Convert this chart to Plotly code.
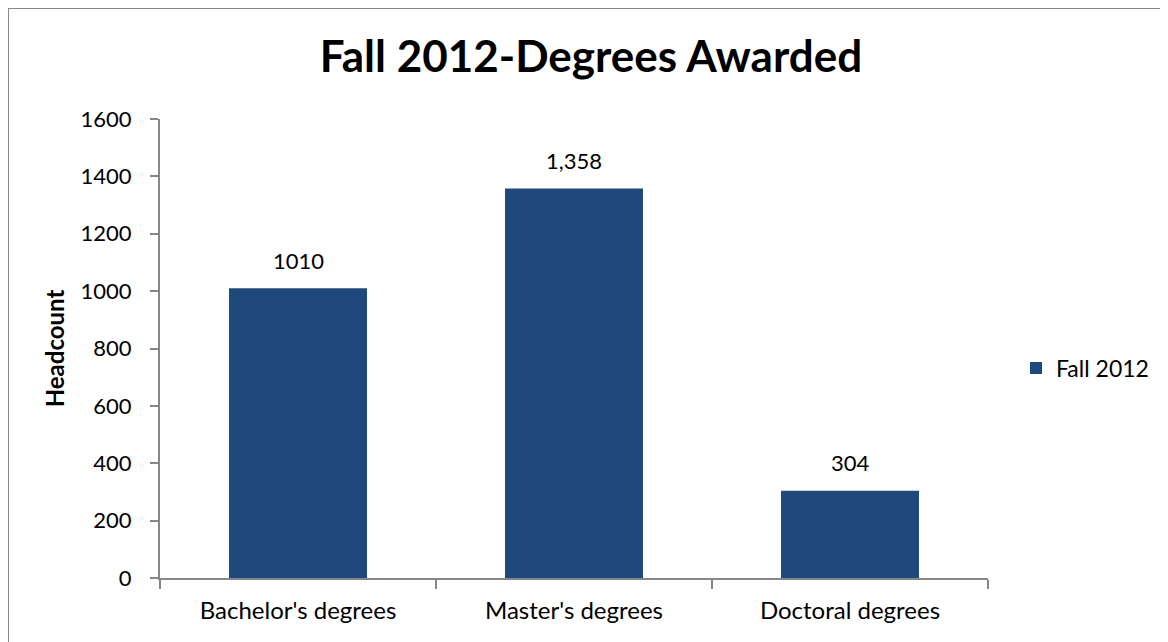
import plotly.graph_objects as go

categories = ["Bachelor's degrees", "Master's degrees", "Doctoral degrees"]
values = [1010, 1358, 304]
value_labels = ["1010", "1,358", "304"]
series_name = "Fall 2012"
y_ticks = [0, 200, 400, 600, 800, 1000, 1200, 1400, 1600]

# Page has an 8px body margin; figure sized to fit the 1168x642 window.
OFF = 8
W, H = 1168 - OFF, 642 - OFF
L, R, T, B = 152, 180, 111, 64  # plot area page px: x 160-988, y 119-578
pw = W - L - R
ph = H - T - B

def px_x(page_p):
    return (page_p - OFF - L) / pw

def px_y(page_p):
    return (H - B - (page_p - OFF)) / ph

FONT = "Lato, Carlito, Calibri, sans-serif"
AXIS_COL = "#868686"

fig = go.Figure()
fig.add_trace(go.Bar(
    x=categories, y=values, name=series_name,
    marker=dict(color="#1F497D", line=dict(width=0)),
    showlegend=True,
))

for c, v, t in zip(categories, values, value_labels):
    fig.add_annotation(x=c, y=v, text=t, showarrow=False, yanchor="middle", yshift=28,
                       font=dict(family=FONT, size=22, color="#000000"))

fig.update_layout(
    width=W, height=H,
    margin=dict(l=L, r=R, t=T, b=B),
    paper_bgcolor="white", plot_bgcolor="white",
    bargap=0.5,
    title=dict(text="<b>Fall 2012-Degrees Awarded</b>", x=(591 - OFF) / W, xanchor="center",
               y=1 - (57 - OFF) / H, yanchor="middle",
               font=dict(family=FONT, size=44, color="#000000")),
    font=dict(family=FONT, color="#000000"),
    showlegend=True,
    legend=dict(x=px_x(1016), xanchor="left", y=px_y(368), yanchor="middle",
                font=dict(family=FONT, size=23, color="#000000"),
                itemwidth=30, bgcolor="rgba(0,0,0,0)"),
    xaxis=dict(
        showline=True, linecolor=AXIS_COL, linewidth=2,
        ticks="outside", tickson="boundaries", ticklen=9, tickcolor=AXIS_COL, tickwidth=2,
        ticklabelstandoff=10,
        tickfont=dict(family=FONT, size=24, color="#000000"),
        showgrid=False, zeroline=False,
    ),
    yaxis=dict(
        range=[0, 1600], tickvals=y_ticks,
        showline=True, linecolor=AXIS_COL, linewidth=2,
        ticks="outside", ticklen=8, tickcolor=AXIS_COL, tickwidth=2,
        ticklabelstandoff=14,
        tickfont=dict(family=FONT, size=22, color="#000000"),
        showgrid=False, zeroline=False,
        title=dict(text="<b>Headcount</b>", font=dict(family=FONT, size=24, color="#000000"), standoff=9),
    ),
    shapes=[dict(
        type="rect", xref="paper", yref="paper",
        x0=px_x(8), x1=px_x(1180), y0=px_y(660), y1=px_y(8),
        line=dict(color="#888888", width=2), fillcolor="rgba(0,0,0,0)", layer="below",
    )],
)

fig.write_html("out.html")
